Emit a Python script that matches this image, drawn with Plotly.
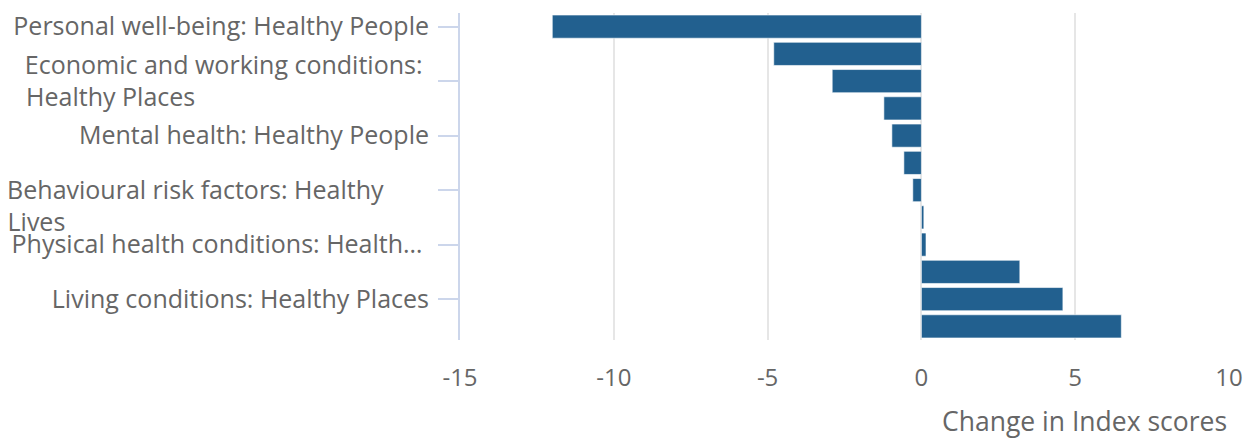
import plotly.graph_objects as go

NB = "\u00a0"

categories = [
    "Personal well-being: Healthy People",
    "Difficulties in daily life: Healthy People",
    "Economic and working conditions:" + NB + "<br>Healthy Places" + NB * 36,
    "Children and young people: Healthy Lives",
    "Mental health: Healthy People",
    "Access to green space: Healthy Places",
    "<br>Behavioural risk factors: Healthy" + NB * 7 + "<br>Lives" + NB * 56,
    "Physiological risk factors: Healthy Lives",
    "Physical health conditions: Health\u2026" + NB,
    "Local services: Healthy Places",
    "Living conditions: Healthy Places",
    "Protective measures: Healthy Lives",
]
values = [-12.0, -4.8, -2.9, -1.22, -0.96, -0.57, -0.28, 0.08, 0.15, 3.2, 4.6, 6.5]
x_ticks = [-15, -10, -5, 0, 5, 10]
x_tick_text = ["-15", "-10", "-5", "0", "5", "10"]

fig = go.Figure(go.Bar(
    y=categories, x=values, orientation="h",
    marker=dict(color="#22608f", line=dict(color="rgba(255,255,255,0.6)", width=1)),
))

# page body has an 8px default margin; compensate so the plot sits where the reference does
fig.update_layout(
    width=1245, height=431,
    margin=dict(l=452, r=24, t=5, b=99),
    paper_bgcolor="white", plot_bgcolor="white",
    font=dict(family="Open Sans", color="#666666", size=25),
    bargap=0.15,
    showlegend=False,
)
fig.update_xaxes(
    range=[-15, 10], tickvals=x_ticks, ticktext=x_tick_text,
    showgrid=True, gridcolor="#e6e6e6", gridwidth=2,
    zeroline=False, showline=False, tickfont=dict(size=24), ticks="",
    ticklabelstandoff=21, automargin=False,
)
fig.update_yaxes(
    autorange="reversed", tickmode="linear", tick0=0, dtick=2,
    showline=True, linecolor="#ccd6eb", linewidth=2,
    ticks="outside", ticklen=20, tickcolor="#ccd6eb", tickwidth=1.5,
    showgrid=False, tickfont=dict(size=25), ticklabelstandoff=4, automargin=False,
)
fig.add_annotation(
    text="Change in Index scores", xref="paper", yref="paper", x=1, y=0,
    xanchor="right", yanchor="top", yshift=-61, showarrow=False,
    font=dict(size=26.5, color="#666666"),
)
fig.write_html("out.html")
